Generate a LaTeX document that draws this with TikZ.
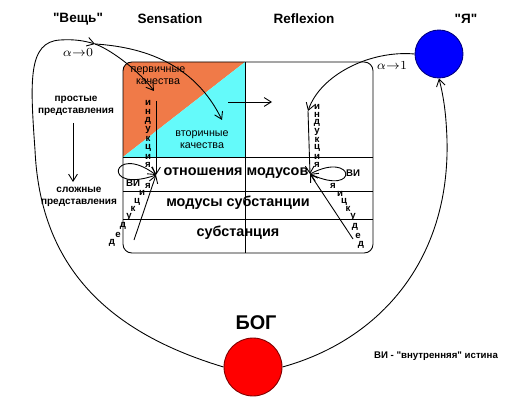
\documentclass[tikz,border=0pt]{standalone}
\usepackage{fontspec}
\setmainfont{Liberation Sans}
\usetikzlibrary{arrows.meta}
\definecolor{prim}{RGB}{240,122,72}
\definecolor{sec}{RGB}{100,250,250}

\begin{document}
\begin{tikzpicture}[x=0.02cm,y=-0.02cm,line width=0.5pt,
    hdr/.style={font=\bfseries\fontsize{7.7}{9}\selectfont},
    rowtxt/.style={font=\bfseries\fontsize{8.2}{10}\selectfont},
    qual/.style={font=\fontsize{6.1}{7}\selectfont,align=center,inner sep=0pt},
    side/.style={font=\bfseries\fontsize{5.7}{7}\selectfont,align=center,inner sep=0pt},
    ltr/.style={font=\bfseries\fontsize{5.5}{5.5}\selectfont,inner sep=0pt},
    arr/.style={-{Straight Barb[length=4pt,width=5pt]}}]
  \useasboundingbox (0,0) rectangle (513,415);
  \begin{scope}
    \clip[rounded corners=5] (123,62) rectangle (373,253);
    \fill[prim] (123,62) -- (245,62) -- (123,157) -- cycle;
    \fill[sec] (245,62) -- (245,157) -- (123,157) -- cycle;
  \end{scope}
  \draw[rounded corners=5] (123,62) rectangle (373,253);
  \draw (245,62) -- (245,253)
    (123,157) -- (373,157)
    (123,191) -- (373,191)
    (123,219) -- (373,219);
  \draw
    (78,19) node[hdr] (0){\textquotedbl Вещь\textquotedbl}
    (170,19) node[hdr] (1){Sensation}
    (304,19) node[hdr] (2){Reflexion}
    (466,19) node[hdr] (3){\textquotedbl Я\textquotedbl}
    (439,54) node[circle,fill=blue,draw=blue!50!black,minimum size=0.96cm,inner sep=0pt] (ya){}
    (253,367) node[circle,fill=red,draw=red!50!black,minimum size=1.16cm,inner sep=0pt] (bog){}
    (256,323) node[font=\bfseries\fontsize{11.3}{13}\selectfont] (4){БОГ}
    (436,356) node[font=\bfseries\fontsize{5.5}{7}\selectfont] (5){ВИ - \textquotedbl внутренняя\textquotedbl{} истина}
    (78,53) node[font=\fontsize{7.2}{8}\selectfont] (6){$\alpha{\to}0$}
    (392,66) node[font=\fontsize{7.2}{8}\selectfont] (7){$\alpha{\to}1$}
    (158,76) node[qual] (8){первичные\\качества}
    (202,140) node[qual] (9){вторичные\\качества}
    (236,173) node[rowtxt] (10){отношения модусов}
    (238,203) node[rowtxt] (11){модусы субстанции}
    (238,233) node[rowtxt] (12){субстанция}
    (76,106) node[side] (13){простые\\представления}
    (79,197) node[side] (14){сложные\\представления}
    (133,183) node[ltr] (15){ВИ}
    (353,173) node[ltr] (16){ВИ};
  \foreach \c/\y [count=\i] in {и/103,н/112,д/121,у/130,к/139,ц/148,и/157,я/165}
    \node[ltr] (li\i) at (148,\y) {\c};
  \foreach \c/\y [count=\i] in {и/107,н/115,д/123,у/132,к/140,ц/148,и/157,я/165}
    \node[ltr] (ri\i) at (317,\y) {\c};
  \foreach \c/\x/\y [count=\i] in {д/112/243,е/118/235,д/123/226,у/129/217,к/133/209,ц/137/202,и/142/193,я/148/186}
    \node[ltr] (ld\i) at (\x,\y) {\c};
  \foreach \c/\x/\y [count=\i] in {д/361/245,е/358/236,д/355/227,у/353/217,к/348/209,ц/344/202,и/340/194,я/333/186}
    \node[ltr] (rd\i) at (\x,\y) {\c};
  \coordinate (fork) at (95,44);
  \coordinate (pq) at (154,91);
  \coordinate (vq) at (222,120);
  \coordinate (li) at (156,101);
  \coordinate (lj) at (156,175);
  \coordinate (ri) at (308,111);
  \coordinate (rj) at (310,174);
  \coordinate (ld) at (134,240);
  \coordinate (rd) at (353,239);
  \coordinate (ha) at (228,102);
  \coordinate (hb) at (272,102);
  \coordinate (pa) at (73,123);
  \coordinate (pb) at (73,182);
  \begin{scope}[arr]
    \draw (bog.west) .. controls (100,330) and (40,260) .. (35,150)
      .. controls (30,80) and (28,42) .. (60,40) .. controls (75,39) and (85,41) .. (fork);
    \draw (fork) .. controls (112,50) and (140,72) .. (pq);
    \draw (fork) .. controls (160,48) and (200,75) .. (vq);
    \draw (bog.east) .. controls (380,340) and (450,260) .. (447,140)
      .. controls (446,110) and (443,95) .. (ya.south);
    \draw (ya.west) .. controls (370,50) and (320,75) .. (ri);
    \draw (ha) -- (hb);
    \draw (pa) -- (pb);
    \draw (li) -- (lj);
    \draw (ri) -- (rj);
    \draw (ld) -- (lj);
    \draw (rd) -- (rj);
    \draw (lj) .. controls (100,195) and (112,142) .. (lj);
    \draw (rj) .. controls (355,150) and (360,197) .. (rj);
  \end{scope}
\end{tikzpicture}
\end{document}
